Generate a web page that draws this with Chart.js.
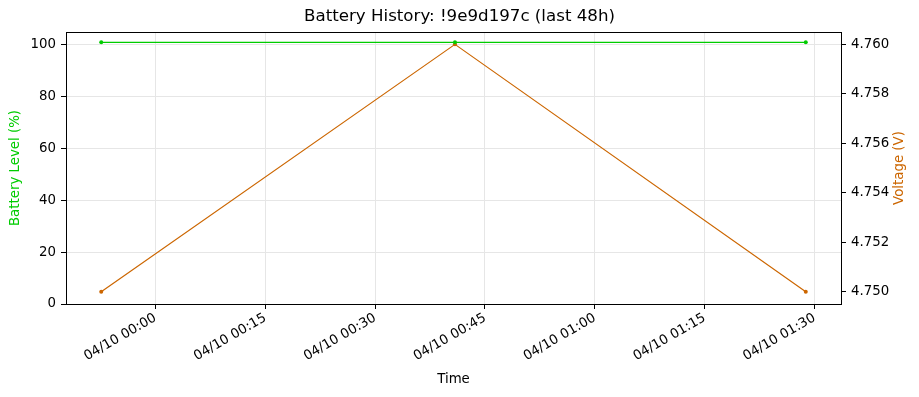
<!DOCTYPE html>
<html>
<head>
<meta charset="utf-8">
<script src="https://cdn.jsdelivr.net/npm/chart.js@4"></script>
<style>
  body { margin: 0; background: #fff; }
  canvas { display: block; }
</style>
</head>
<body>
<canvas id="batteryChart" width="919" height="397"></canvas>
<script>
// minutes relative to 04/10 00:00
const sampleMinutes = [-7.4, 40.9, 88.8];
const batteryLevel = [101, 101, 101];
const voltage = [4.750, 4.760, 4.750];

const timeTicks = [0, 15, 30, 45, 60, 75, 90];
const timeLabels = ['04/10 00:00', '04/10 00:15', '04/10 00:30', '04/10 00:45',
                    '04/10 01:00', '04/10 01:15', '04/10 01:30'];
const levelTicks = [0, 20, 40, 60, 80, 100];
const voltTicks = [4.750, 4.752, 4.754, 4.756, 4.758, 4.760];

const green = '#00cc00';
const orange = '#cc6600';
const font = 'DejaVu Sans';
const small = 13.33;

// matplotlib-like 5% margins on x and voltage
const xSpan = sampleMinutes[sampleMinutes.length - 1] - sampleMinutes[0];
const vMin = Math.min(...voltage), vMax = Math.max(...voltage);
const vSpan = vMax - vMin;

// top spine + right-axis label read bottom-to-top like matplotlib
const frame = {
    id: 'frame',
    afterDraw(chart) {
        const a = chart.chartArea, c = chart.ctx;
        c.save();
        c.strokeStyle = '#000';
        c.lineWidth = 1;
        c.strokeRect(Math.round(a.left) + 0.5, Math.round(a.top) + 0.5,
                     Math.round(a.right - a.left), Math.round(a.bottom - a.top));
        c.translate(chart.scales.y1.right - 19, (a.top + a.bottom) / 2);
        c.rotate(-Math.PI / 2);
        c.fillStyle = orange;
        c.font = small + 'px "' + font + '"';
        c.textAlign = 'center';
        c.textBaseline = 'middle';
        c.fillText('Voltage (V)', 0, 0);
        c.restore();
    }
};

const ctx = document.getElementById('batteryChart').getContext('2d');
new Chart(ctx, {
    type: 'line',
    data: {
        datasets: [{
            label: 'Battery Level (%)',
            data: sampleMinutes.map((m, i) => ({ x: m, y: batteryLevel[i] })),
            borderColor: green,
            backgroundColor: green,
            borderWidth: 1.2,
            pointRadius: 2,
            pointBorderWidth: 0,
            yAxisID: 'y'
        }, {
            label: 'Voltage (V)',
            data: sampleMinutes.map((m, i) => ({ x: m, y: voltage[i] })),
            borderColor: orange,
            backgroundColor: orange,
            borderWidth: 1.2,
            pointRadius: 2,
            pointBorderWidth: 0,
            yAxisID: 'y1'
        }]
    },
    options: {
        responsive: false,
        animation: false,
        devicePixelRatio: 1,
        layout: { padding: 0 },
        plugins: {
            legend: { display: false },
            tooltip: { enabled: false },
            title: {
                display: true,
                text: 'Battery History: !9e9d197c (last 48h)',
                color: '#000',
                font: { family: font, size: 16.67, weight: 'normal' },
                padding: { top: 7, bottom: 5 }
            }
        },
        scales: {
            x: {
                type: 'linear',
                min: sampleMinutes[0] - xSpan * 0.05,
                max: sampleMinutes[sampleMinutes.length - 1] + xSpan * 0.05,
                afterBuildTicks: s => { s.ticks = timeTicks.map(v => ({ value: v })); },
                afterFit: s => { s.height = 93; },
                ticks: {
                    autoSkip: false,
                    minRotation: 30,
                    maxRotation: 30,
                    padding: 1,
                    color: '#000',
                    font: { family: font, size: small },
                    callback: (v) => timeLabels[timeTicks.indexOf(v)]
                },
                grid: { color: '#e6e6e6', tickColor: '#000', tickLength: 5, lineWidth: 1 },
                border: { display: true, color: '#000' },
                title: {
                    display: true, text: 'Time', color: '#000',
                    font: { family: font, size: small },
                    padding: { top: 0, bottom: 9 }
                }
            },
            y: {
                position: 'left',
                min: 0,
                max: 105,
                afterBuildTicks: s => { s.ticks = levelTicks.map(v => ({ value: v })); },
                afterFit: s => { s.width = 66; },
                ticks: { color: '#000', padding: 5, font: { family: font, size: small } },
                grid: { color: '#e6e6e6', tickColor: '#000', tickLength: 5 },
                border: { display: true, color: '#000' },
                title: {
                    display: true, text: 'Battery Level (%)', color: green,
                    font: { family: font, size: small },
                    padding: { top: 8, bottom: 0 }
                }
            },
            y1: {
                position: 'right',
                min: vMin - vSpan * 0.05,
                max: vMax + vSpan * 0.05,
                afterBuildTicks: s => { s.ticks = voltTicks.map(v => ({ value: v })); },
                afterFit: s => { s.width = 78; },
                ticks: {
                    color: '#000', padding: 5, font: { family: font, size: small },
                    callback: v => v.toFixed(3)
                },
                grid: { drawOnChartArea: false, tickColor: '#000', tickLength: 5 },
                border: { display: true, color: '#000' },
                title: { display: false }
            }
        }
    },
    plugins: [frame]
});
</script>
</body>
</html>
